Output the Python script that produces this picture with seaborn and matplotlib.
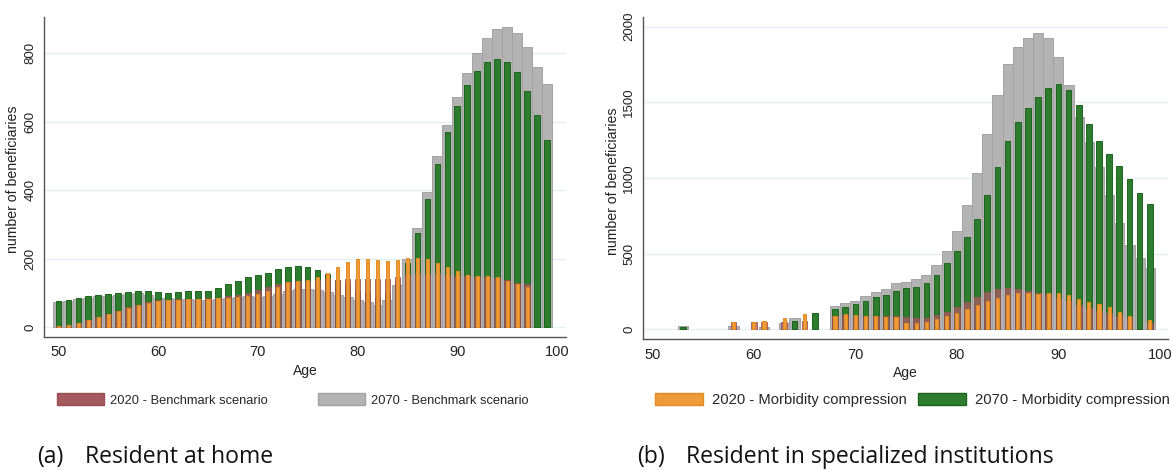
import numpy as np
import pandas as pd
import matplotlib
matplotlib.use("Agg")
import matplotlib.pyplot as plt
import seaborn as sns
from matplotlib.patches import Patch

# ---------------- data ----------------
ages = list(range(50, 100))

# (a) Resident at home
home_2070_bench = [75, 78, 83, 85, 90, 91, 94, 97, 99, 94,
                   87, 85, 83, 83, 80, 80, 84, 86, 88, 90,
                   89, 91, 96, 106, 111, 111, 108, 102, 95, 88,
                   80, 75, 66, 80, 124, 199, 291, 394, 500, 591,
                   672, 743, 800, 844, 871, 877, 858, 817, 761, 709]
home_2070_morb = [77, 80, 87, 91, 94, 97, 101, 104, 106, 106,
                  103, 101, 103, 105, 106, 107, 114, 125, 136, 146,
                  152, 160, 170, 177, 180, 177, 167, 157, 138, 124,
                  105, 100, 85, 100, 130, 187, 274, 375, 477, 570,
                  647, 708, 749, 775, 784, 776, 745, 690, 620, 547]
home_2020_bench = [3, 8, 14, 22, 30, 40, 48, 58, 66, 73,
                   79, 81, 82, 83, 84, 85, 87, 90, 94, 101,
                   108, 117, 127, 133, 136, 133, 138, 143, 139, 140,
                   141, 142, 142, 142, 146, 153, 155, 156, 156, 153,
                   150, 150, 148, 148, 145, 138, 128, 127, 0, 0]
home_2020_morb = [3, 7, 13, 21, 29, 39, 47, 57, 65, 72,
                  78, 80, 81, 82, 83, 83, 85, 87, 88, 90,
                  96, 105, 119, 131, 135, 138, 147, 158, 176, 190,
                  199, 200, 197, 195, 197, 201, 203, 200, 189, 176,
                  163, 153, 150, 150, 146, 136, 127, 117, 0, 0]

# (b) Resident in specialized institutions
inst_2070_bench = [0, 0, 0, 22, 0, 0, 0, 0, 22, 0,
                   0, 18, 0, 44, 77, 0, 0, 0, 155, 177,
                   189, 218, 246, 264, 304, 315, 330, 359, 425, 520,
                   652, 822, 1031, 1293, 1549, 1754, 1868, 1928, 1956, 1923,
                   1802, 1615, 1406, 1238, 1075, 890, 705, 557, 474, 403]
inst_2070_morb = [0, 0, 0, 13, 0, 0, 0, 0, 0, 0,
                  0, 0, 0, 0, 57, 0, 106, 0, 132, 145,
                  167, 189, 212, 228, 253, 271, 282, 308, 359, 436,
                  520, 612, 727, 888, 1075, 1245, 1368, 1461, 1536, 1597,
                  1622, 1582, 1483, 1360, 1245, 1158, 1080, 992, 900, 827]
inst_2020_bench = [0, 0, 0, 0, 0, 0, 0, 0, 50, 0,
                   50, 50, 0, 46, 0, 55, 0, 0, 90, 92,
                   90, 90, 88, 88, 88, 79, 73, 77, 95, 117,
                   150, 183, 216, 249, 264, 270, 265, 255, 242, 232,
                   210, 185, 161, 142, 122, 106, 90, 73, 0, 40]
inst_2020_morb = [0, 0, 0, 0, 0, 0, 0, 0, 50, 0,
                  50, 57, 0, 73, 0, 99, 0, 0, 88, 101,
                  95, 90, 88, 84, 79, 44, 44, 51, 66, 88,
                  106, 132, 161, 188, 209, 227, 238, 238, 236, 240,
                  240, 227, 198, 183, 167, 145, 117, 88, 0, 60]

labels = ["2020 - Benchmark scenario", "2070 - Benchmark scenario",
          "2020 - Morbidity compression", "2070 - Morbidity compression"]
captions = [("(a)", "Resident at home"), ("(b)", "Resident in specialized institutions")]

# ---------------- style ----------------
sns.set_style("white")
plt.rcParams["font.family"] = ["Liberation Sans", "DejaVu Sans"]

C_RED, C_GRAY, C_ORANGE, C_GREEN = "#a65a5f", "#b3b3b3", "#ec9a3a", "#2e7d2e"
E_RED, E_GRAY, E_ORANGE, E_GREEN = "#9a4f55", "#a3a3a3", "#e58a1f", "#1d651d"

fig = plt.figure(figsize=(11.72, 4.70), dpi=100)
W, H = 1172, 470
axA = fig.add_axes([44 / W, 133 / H, (566 - 44) / W, (453 - 133) / H])
axB = fig.add_axes([642.7 / W, 130.7 / H, (1168 - 642.7) / W, (453 - 130.7) / H])


def draw(ax, g70b, g70m, g20b, g20m):
    df = pd.DataFrame({"age": ages, "b70": g70b, "m70": g70m, "b20": g20b, "m20": g20m})
    specs = [("b70", 1.0, C_GRAY, E_GRAY, 1.0),
             ("m70", 0.56, C_GREEN, E_GREEN, 1.0),
             ("b20", 0.56, C_RED, E_RED, 0.8),
             ("m20", 0.32, C_ORANGE, E_ORANGE, 1.0)]
    for col, w, c, ec, a in specs:
        sub = df[df[col] > 0]
        sns.barplot(data=sub, x="age", y=col, native_scale=True, width=w,
                    color=c, saturation=1, edgecolor=ec, linewidth=0.7,
                    alpha=a, errorbar=None, ax=ax)
    for s in ["top", "right"]:
        ax.spines[s].set_visible(False)
    for s in ["left", "bottom"]:
        ax.spines[s].set_color("#555555")
        ax.spines[s].set_linewidth(1.0)
    ax.set_xticks([50, 60, 70, 80, 90, 100])
    ax.set_xticklabels(["50", "60", "70", "80", "90", "100"], fontsize=10.5)
    ax.tick_params(axis="x", length=4, width=1, color="#555555", pad=2, labelcolor="#222222")
    ax.tick_params(axis="y", length=3.5, width=1, color="#555555", pad=2,
                   labelrotation=90, labelsize=9.5, labelcolor="#222222")
    ax.grid(axis="y", color="#e6eff1", linewidth=1.0)
    ax.grid(axis="x", visible=False)
    ax.set_axisbelow(True)
    ax.set_xlabel("Age", fontsize=10, labelpad=3, color="#222222")
    ax.set_ylabel("number of beneficiaries", fontsize=10.2, color="#222222")


draw(axA, home_2070_bench, home_2070_morb, home_2020_bench, home_2020_morb)
axA.set_xlim(48.56, 100.9)
axA.set_ylim(-28.3, 906)
axA.set_yticks([0, 200, 400, 600, 800])
axA.set_yticklabels(["0", "200", "400", "600", "800"])
axA.yaxis.set_label_coords(-0.0455, 0.494)

draw(axB, inst_2070_bench, inst_2070_morb, inst_2020_bench, inst_2020_morb)
axB.set_xlim(49.05, 100.8)
axB.set_ylim(-66, 2064)
axB.set_yticks([0, 500, 1000, 1500, 2000])
axB.set_yticklabels(["0", "500", "1000", "1500", "2000"])
axB.yaxis.set_label_coords(-0.0432, 0.49)
for ax in (axA, axB):
    for t in ax.get_yticklabels():
        t.set_va("center")

# ---------------- legends ----------------
hA = [Patch(facecolor=C_RED, edgecolor=E_RED), Patch(facecolor=C_GRAY, edgecolor=E_GRAY)]
hB = [Patch(facecolor=C_ORANGE, edgecolor=E_ORANGE), Patch(facecolor=C_GREEN, edgecolor=E_GREEN)]
legA = fig.legend(hA, labels[:2], loc="center left", bbox_to_anchor=(57 / W, 70 / H),
                  ncol=2, frameon=False, handlelength=3.64, handleheight=1.08,
                  handletextpad=0.47, borderaxespad=0, borderpad=0, columnspacing=3.9,
                  prop={"family": ["Liberation Sans", "DejaVu Sans"], "size": 9.3})
legB = fig.legend(hB, labels[2:], loc="center left", bbox_to_anchor=(655 / W, 70 / H),
                  ncol=2, frameon=False, handlelength=3.26, handleheight=0.95,
                  handletextpad=0.6, borderaxespad=0, borderpad=0, columnspacing=0.8,
                  prop={"family": ["Liberation Sans", "DejaVu Sans"], "size": 10.6})

# ---------------- captions ----------------
cap_font = dict(fontsize=16.6, family=["Open Sans", "DejaVu Sans"], va="center", color="#111111")
fig.text(37 / W, 1 - 457 / H, captions[0][0], **cap_font)
fig.text(85 / W, 1 - 457 / H, captions[0][1], **cap_font)
fig.text(637 / W, 1 - 457 / H, captions[1][0], **cap_font)
fig.text(686 / W, 1 - 457 / H, captions[1][1], **cap_font)

fig.savefig("out.png", dpi=100)
